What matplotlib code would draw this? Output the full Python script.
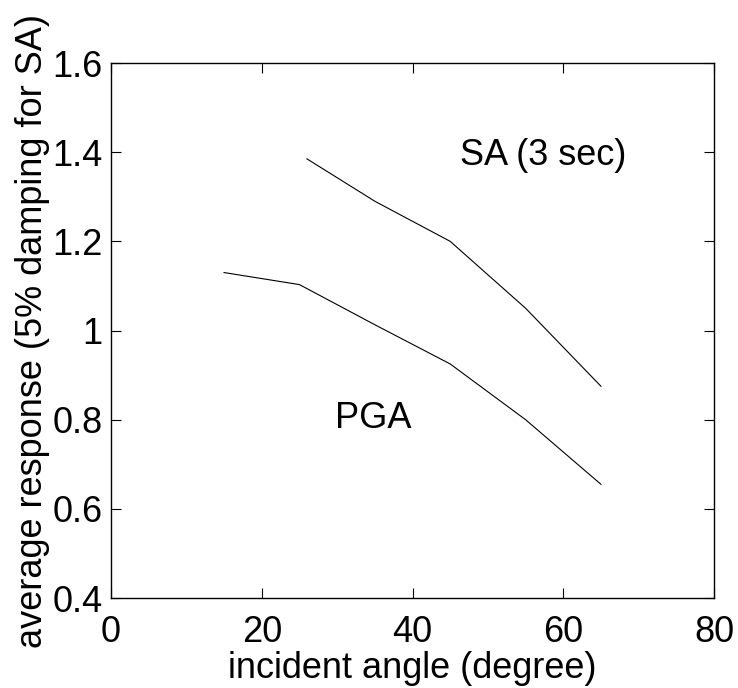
import numpy as np
import matplotlib
matplotlib.use("Agg")
import matplotlib.pyplot as plt

# datos
sa_angle = [26, 35, 45, 55, 65]
sa_resp = [1.385, 1.29, 1.20, 1.05, 0.875]

pga_angle = [15, 25, 35, 45, 55, 65]
pga_resp = [1.13, 1.103, 1.013, 0.925, 0.80, 0.655]

xticks = [0, 20, 40, 60, 80]
yticks = [0.4, 0.6, 0.8, 1.0, 1.2, 1.4, 1.6]
ytick_labels = ["0.4", "0.6", "0.8", "1", "1.2", "1.4", "1.6"]

plt.rcParams['font.family'] = ['Liberation Sans', 'DejaVu Sans']

fig = plt.figure(figsize=(7.38, 6.88), dpi=100)
ax = fig.add_axes([0.1504, 0.1308, 0.8171, 0.7776])

ax.plot(sa_angle, sa_resp, color='black', lw=0.8)
ax.plot(pga_angle, pga_resp, color='black', lw=0.8)

# etiquetas de las curvas
ax.text(46.3, 1.393, "SA (3 sec)", fontsize=26, va='center', ha='left')
ax.text(29.7, 0.802, "PGA", fontsize=26, va='center', ha='left')

ax.set_xlim(0, 80)
ax.set_ylim(0.4, 1.6)
ax.set_xticks(xticks)
ax.set_yticks(yticks)
ax.set_yticklabels(ytick_labels)
ax.tick_params(direction='in', length=7, width=0.8, labelsize=26,
               top=True, right=True)
ax.tick_params(axis='x', pad=12)
ax.tick_params(axis='y', pad=6)
for s in ax.spines.values():
    s.set_linewidth(1.0)

ax.set_xlabel("incident angle (degree)", fontsize=26, labelpad=1)
ax.set_ylabel("average response (5% damping for SA)", fontsize=26, labelpad=2)

fig.savefig("out.png", dpi=100)
